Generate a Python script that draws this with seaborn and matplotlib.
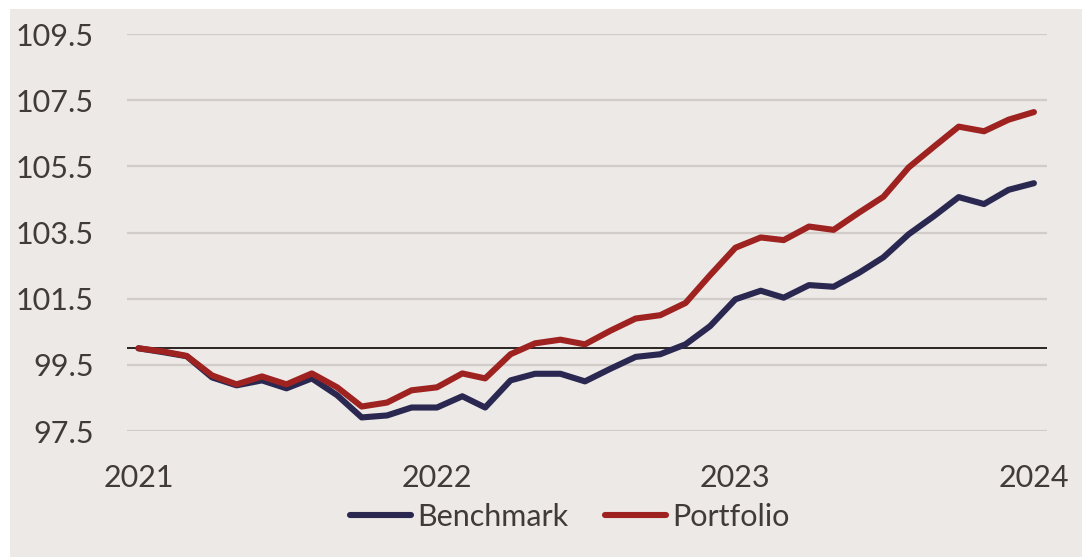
import numpy as np
import pandas as pd
import matplotlib
matplotlib.use('Agg')
import matplotlib.pyplot as plt
import seaborn as sns
from matplotlib.patches import Rectangle

# monthly index values, Jan 2021 .. Jan 2024
dates = pd.date_range("2021-01-01", "2024-01-01", freq="MS")
benchmark = [100.0, 99.88, 99.76, 99.12, 98.88, 99.03, 98.79, 99.09, 98.58, 97.91,
             97.97, 98.21, 98.21, 98.55, 98.21, 99.03, 99.23, 99.23, 99.0, 99.38,
             99.74, 99.82, 100.12, 100.67, 101.48, 101.74, 101.53, 101.91, 101.86, 102.28,
             102.75, 103.45, 104.0, 104.57, 104.36, 104.79, 104.99]
portfolio = [100.0, 99.9, 99.77, 99.18, 98.91, 99.15, 98.91, 99.24, 98.82, 98.24,
             98.36, 98.73, 98.82, 99.24, 99.09, 99.82, 100.15, 100.26, 100.12, 100.53,
             100.9, 101.0, 101.37, 102.21, 103.04, 103.35, 103.27, 103.68, 103.58, 104.1,
             104.58, 105.47, 106.1, 106.7, 106.56, 106.91, 107.14]
series_names = ["Benchmark", "Portfolio"]
y_ticks = [97.5, 99.5, 101.5, 103.5, 105.5, 107.5, 109.5]
x_ticks = ["2021", "2022", "2023", "2024"]

df = pd.DataFrame({"date": dates, "Benchmark": benchmark, "Portfolio": portfolio})
long = df.melt(id_vars="date", var_name="series", value_name="value")

BG = "#ECE9E6"
TXT = "#403B37"
sns.set_style("white")
plt.rcParams['font.family'] = ['Lato', 'DejaVu Sans']

fig = plt.figure(figsize=(10.85, 5.57), dpi=100, facecolor="white")
fig.patches.append(Rectangle((10 / 1085, 0), 1072 / 1085, 548 / 557,
                             transform=fig.transFigure, facecolor=BG,
                             edgecolor="none", zorder=-1))
ax = fig.add_axes([127 / 1085, 126 / 557, 920 / 1085, 397 / 557])
ax.set_facecolor("none")

sns.lineplot(data=long, x="date", y="value", hue="series", hue_order=series_names,
             palette=["#2A2850", "#9E2220"], linewidth=4.4, ax=ax,
             solid_capstyle="round")

ax.axhline(100, color="#2A2522", linewidth=1.4, zorder=1)
ax.set_ylim(97.5, 109.5)
ax.set_yticks(y_ticks)
ax.set_yticklabels([f"{v:.1f}" for v in y_ticks])
ax.yaxis.grid(True, color="#D1CCC7", linewidth=1.6, zorder=0)
ax.set_axisbelow(True)

ax.set_xlim(pd.Timestamp("2020-12-18"), pd.Timestamp("2024-01-17"))
ax.set_xticks([pd.Timestamp(f"{y}-01-01") for y in x_ticks])
ax.set_xticklabels(x_ticks)

ax.tick_params(axis="y", length=0, pad=24, labelsize=22, labelcolor=TXT)
ax.tick_params(axis="x", length=0, pad=24, labelsize=22, labelcolor=TXT)
ax.set_xlabel("")
ax.set_ylabel("")
for s in ax.spines.values():
    s.set_visible(False)

handles, labels = ax.get_legend_handles_labels()
ax.legend(handles, labels, loc="center", bbox_to_anchor=(570 / 1085, 40 / 557),
          bbox_transform=fig.transFigure, ncol=2, frameon=False, fontsize=22,
          labelcolor=TXT, handlelength=2.0, handletextpad=0.2, columnspacing=1.2)

fig.savefig("out.png", dpi=100, facecolor="white")
